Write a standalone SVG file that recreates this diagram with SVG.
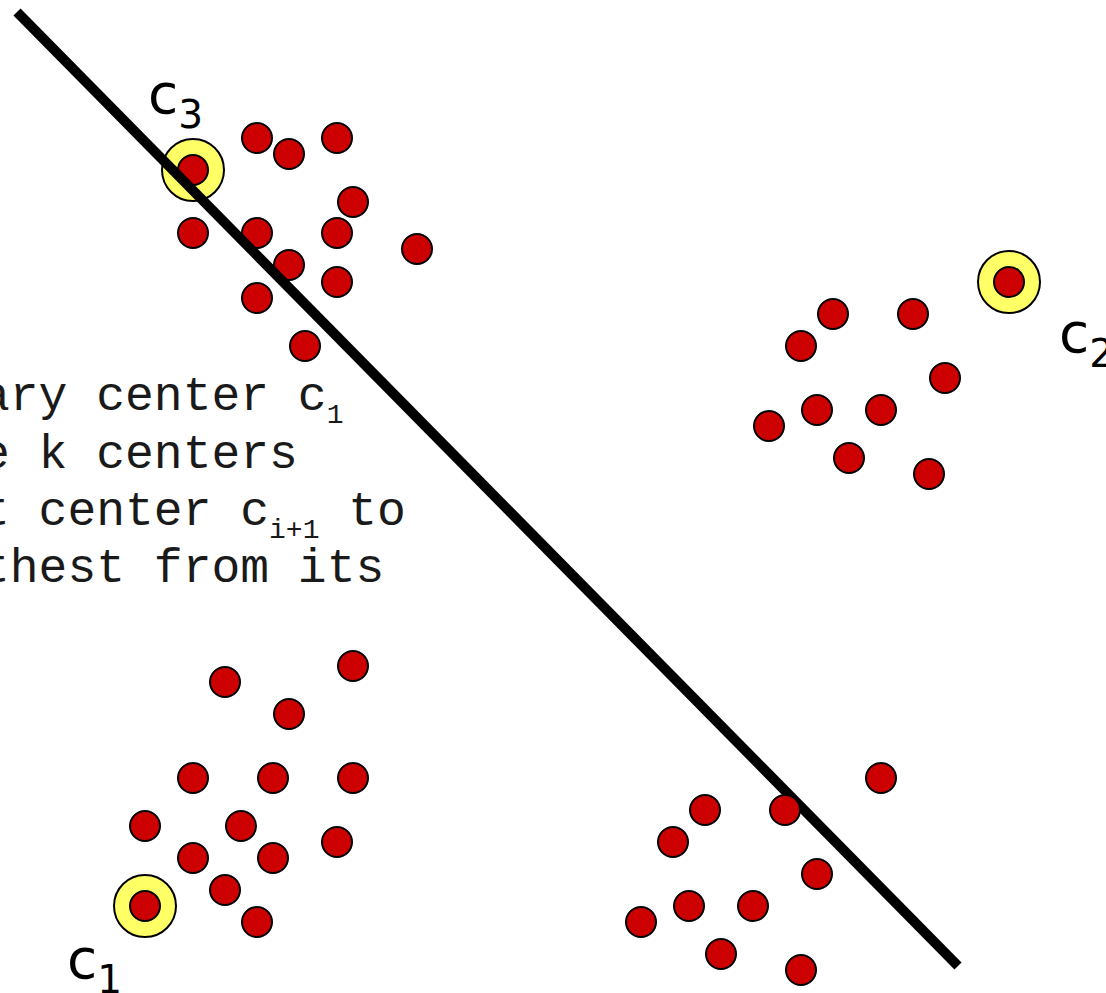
<svg xmlns="http://www.w3.org/2000/svg" width="1106" height="993" viewBox="0 0 1106 993">
<style>
.pt{fill:#cc0000;stroke:#000;stroke-width:2}
.ctr{fill:#ffff66;stroke:#000;stroke-width:2}
.lbl{font-family:"DejaVu Sans",Verdana,sans-serif;font-size:55px;fill:#000}
.sub{font-size:39px}
.txt{font-family:"Courier New","Liberation Mono",monospace;font-size:48px;fill:#1a1a1a}
.tsub{font-size:28px}
.cut{stroke:#000;stroke-width:10;fill:none}
</style>
<rect width="1106" height="993" fill="#fff"/>
<g id="text-block" class="txt">
<text x="-19" y="410" xml:space="preserve">ary center c<tspan class="tsub" dy="13">1</tspan></text>
<text x="-19" y="468" xml:space="preserve">e k centers</text>
<text x="-19" y="525" xml:space="preserve">t center c<tspan class="tsub" dy="13">i+1</tspan><tspan dy="-13"> to</tspan></text>
<text x="-19" y="582" xml:space="preserve">thest from its</text>
</g>
<g id="cluster-top-left">
<g id="c3"><circle class="ctr" cx="193" cy="170" r="31"/><circle class="pt" cx="193" cy="170" r="15"/></g>
<circle class="pt" cx="257" cy="138" r="15"/>
<circle class="pt" cx="289" cy="154" r="15"/>
<circle class="pt" cx="337" cy="138" r="15"/>
<circle class="pt" cx="353" cy="202" r="15"/>
<circle class="pt" cx="193" cy="233" r="15"/>
<circle class="pt" cx="257" cy="233" r="15"/>
<circle class="pt" cx="337" cy="233" r="15"/>
<circle class="pt" cx="417" cy="249" r="15"/>
<circle class="pt" cx="289" cy="265" r="15"/>
<circle class="pt" cx="337" cy="282" r="15"/>
<circle class="pt" cx="257" cy="298" r="15"/>
<circle class="pt" cx="305" cy="346" r="15"/>
</g>
<g id="cluster-top-right">
<g id="c2"><circle class="ctr" cx="1009" cy="282" r="31"/><circle class="pt" cx="1009" cy="282" r="15"/></g>
<circle class="pt" cx="833" cy="314" r="15"/>
<circle class="pt" cx="913" cy="314" r="15"/>
<circle class="pt" cx="801" cy="346" r="15"/>
<circle class="pt" cx="945" cy="378" r="15"/>
<circle class="pt" cx="817" cy="410" r="15"/>
<circle class="pt" cx="881" cy="410" r="15"/>
<circle class="pt" cx="769" cy="426" r="15"/>
<circle class="pt" cx="849" cy="458" r="15"/>
<circle class="pt" cx="929" cy="474" r="15"/>
</g>
<g id="cluster-bottom-left">
<g id="c1"><circle class="ctr" cx="145" cy="906" r="31"/><circle class="pt" cx="145" cy="906" r="15"/></g>
<circle class="pt" cx="225" cy="682" r="15"/>
<circle class="pt" cx="353" cy="666" r="15"/>
<circle class="pt" cx="289" cy="714" r="15"/>
<circle class="pt" cx="193" cy="778" r="15"/>
<circle class="pt" cx="273" cy="778" r="15"/>
<circle class="pt" cx="353" cy="778" r="15"/>
<circle class="pt" cx="145" cy="826" r="15"/>
<circle class="pt" cx="241" cy="826" r="15"/>
<circle class="pt" cx="337" cy="842" r="15"/>
<circle class="pt" cx="193" cy="858" r="15"/>
<circle class="pt" cx="273" cy="858" r="15"/>
<circle class="pt" cx="225" cy="890" r="15"/>
<circle class="pt" cx="257" cy="922" r="15"/>
</g>
<g id="connectors">
<line class="cut" x1="17" y1="12" x2="958" y2="966"/>
</g>
<g id="cluster-bottom-right">
<circle class="pt" cx="881" cy="778" r="15"/>
<circle class="pt" cx="705" cy="810" r="15"/>
<circle class="pt" cx="785" cy="810" r="15"/>
<circle class="pt" cx="673" cy="842" r="15"/>
<circle class="pt" cx="817" cy="874" r="15"/>
<circle class="pt" cx="689" cy="906" r="15"/>
<circle class="pt" cx="753" cy="906" r="15"/>
<circle class="pt" cx="641" cy="922" r="15"/>
<circle class="pt" cx="721" cy="954" r="15"/>
<circle class="pt" cx="801" cy="970" r="15"/>
</g>
<g id="labels" class="lbl">
<text id="label-c3" x="148" y="113">c<tspan class="sub" dy="15">3</tspan></text>
<text id="label-c2" x="1059" y="352">c<tspan class="sub" dy="15">2</tspan></text>
<text id="label-c1" x="67" y="978">c<tspan class="sub" dy="15">1</tspan></text>
</g>
</svg>
